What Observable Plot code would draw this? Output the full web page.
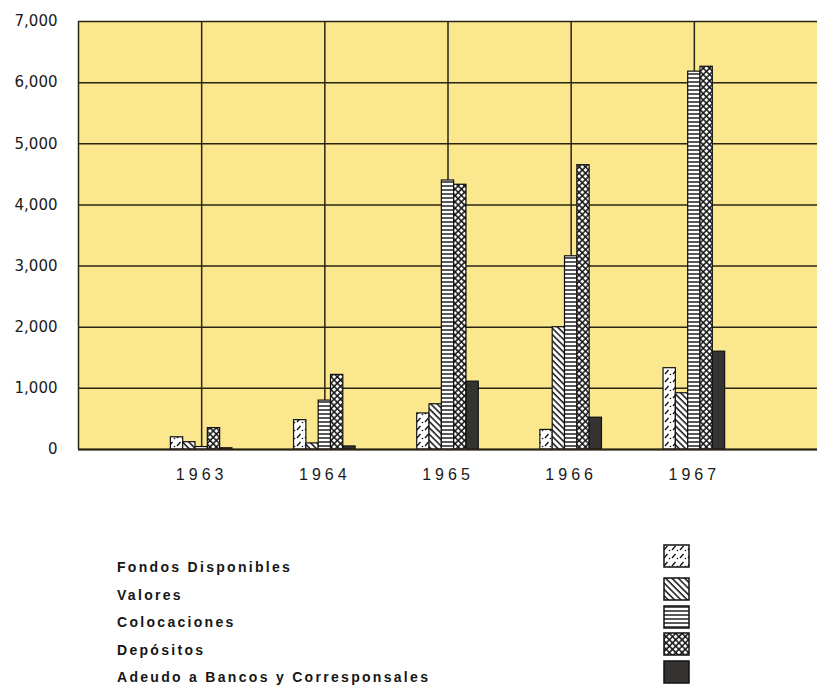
<!DOCTYPE html>
<html>
<head>
<meta charset="utf-8">
<script src="https://cdn.jsdelivr.net/npm/d3@7"></script>
<script src="https://cdn.jsdelivr.net/npm/@observablehq/plot@0.6"></script>
<style>
  html, body { margin: 0; padding: 0; background: #ffffff; }
  #wrap { position: relative; width: 817px; height: 693px; }
  #chart { position: absolute; left: 0; top: 0; }
  .lg-text { position: absolute; left: 117px; font-family: "Liberation Sans", Arial, sans-serif; font-weight: bold; font-size: 14px; letter-spacing: 2.3px; color: #161616; white-space: nowrap; line-height: 1; }
  .lg-swatch { position: absolute; left: 663px; }
</style>
</head>
<body>
<svg width="0" height="0" style="position:absolute">
  <defs>
    <pattern id="p-fondos" width="8" height="8" patternUnits="userSpaceOnUse">
      <rect width="8" height="8" fill="#ffffff"/>
      <line x1="1" y1="6" x2="4.5" y2="2" stroke="#111" stroke-width="1.3"/>
      <circle cx="6.5" cy="6.5" r="0.8" fill="#111"/>
    </pattern>
    <pattern id="p-valores" width="4.5" height="4.5" patternUnits="userSpaceOnUse" patternTransform="rotate(-45)">
      <rect width="4.5" height="4.5" fill="#ffffff"/>
      <line x1="1" y1="0" x2="1" y2="4.5" stroke="#111" stroke-width="1.5"/>
    </pattern>
    <pattern id="p-coloc" width="6" height="4" patternUnits="userSpaceOnUse">
      <rect width="6" height="4" fill="#ffffff"/>
      <line x1="0" y1="2" x2="6" y2="2" stroke="#111" stroke-width="1.4"/>
    </pattern>
    <pattern id="p-depos" width="4.5" height="4.5" patternUnits="userSpaceOnUse" patternTransform="rotate(45)">
      <rect width="4.5" height="4.5" fill="#ffffff"/>
      <line x1="1" y1="0" x2="1" y2="4.5" stroke="#111" stroke-width="1.5"/>
      <line x1="0" y1="1" x2="4.5" y2="1" stroke="#111" stroke-width="1.5"/>
    </pattern>
  </defs>
</svg>
<div id="wrap">
  <div id="chart"></div>
  <div id="legend"></div>
</div>
<script>
// ---- data ----
const years = [1963, 1964, 1965, 1966, 1967];
const seriesNames = ["Fondos Disponibles", "Valores", "Colocaciones", "Depósitos", "Adeudo a Bancos y Corresponsales"];
const fondosDisponibles = [200, 480, 590, 320, 1330];
const valores = [120, 100, 740, 2000, 920];
const colocaciones = [40, 800, 4400, 3160, 6180];
const depositos = [350, 1220, 4330, 4650, 6260];
const adeudoBancos = [20, 50, 1110, 520, 1600];
const yTicks = [0, 1000, 2000, 3000, 4000, 5000, 6000, 7000];
const gridYears = [1962, 1963, 1964, 1965, 1966, 1967];

const seriesValues = [fondosDisponibles, valores, colocaciones, depositos, adeudoBancos];
const seriesFills = ["url(#p-fondos)", "url(#p-valores)", "url(#p-coloc)", "url(#p-depos)", "#353232"];

const barStep = 0.1; // bar width in years
const rows = [];
seriesValues.forEach((vals, si) => {
  vals.forEach((v, yi) => rows.push({series: seriesNames[si], si, year: years[yi], value: v}));
});

const lineColor = "#2a2414";

const barMarks = seriesNames.map((name, si) =>
  Plot.rectY(rows.filter(d => d.si === si), {
    x1: d => d.year + (d.si - 2.5) * barStep,
    x2: d => d.year + (d.si - 1.5) * barStep,
    y: "value",
    fill: seriesFills[si],
    stroke: "#111",
    strokeWidth: 1.2
  })
);

const chart = Plot.plot({
  width: 817,
  height: 500,
  marginLeft: 78,
  marginRight: 0,
  marginTop: 21,
  marginBottom: 51,
  style: {background: "transparent", fontFamily: "DejaVu Sans, sans-serif", fontSize: "15px", color: "#1a1a1a"},
  x: {type: "linear", domain: [1962, 1968], label: null},
  y: {domain: [0, 7000], label: null},
  marks: [
    Plot.frame({fill: "#fbe78d", stroke: "none"}),
    Plot.gridY({ticks: yTicks, stroke: lineColor, strokeOpacity: 1, strokeWidth: 1.5}),
    Plot.gridX({ticks: gridYears, stroke: lineColor, strokeOpacity: 1, strokeWidth: 1.5}),
    ...barMarks,
    Plot.ruleY([0], {stroke: lineColor, strokeWidth: 1.8}),
    Plot.axisY({ticks: yTicks, tickFormat: d3.format(","), tickSize: 0, tickPadding: 21, fontSize: 15, fontFamily: "DejaVu Sans, sans-serif", label: null}),
    Plot.axisX({ticks: years, tickFormat: d => String(d), tickSize: 0, tickPadding: 19, fontSize: 16, fontFamily: "Liberation Sans, Arial, sans-serif", label: null})
  ]
});
document.getElementById("chart").appendChild(chart);
d3.select(chart).selectAll('[aria-label="x-axis tick label"] text').style("letter-spacing", "4px");

// ---- legend ----
const legend = document.getElementById("legend");
const swatchTops = [544, 577, 605, 632, 660];
seriesNames.forEach((name, i) => {
  const t = document.createElement("div");
  t.className = "lg-text";
  t.style.top = (560 + i * 27.5) + "px";
  t.textContent = name;
  legend.appendChild(t);
  const s = document.createElementNS("http://www.w3.org/2000/svg", "svg");
  s.setAttribute("class", "lg-swatch");
  s.setAttribute("width", 28);
  s.setAttribute("height", 24);
  s.style.top = swatchTops[i] + "px";
  const r = document.createElementNS("http://www.w3.org/2000/svg", "rect");
  r.setAttribute("x", 1); r.setAttribute("y", 1);
  r.setAttribute("width", 25); r.setAttribute("height", 22);
  r.setAttribute("fill", seriesFills[i]);
  r.setAttribute("stroke", "#111");
  r.setAttribute("stroke-width", 1.5);
  s.appendChild(r);
  legend.appendChild(s);
});
</script>
</body>
</html>
